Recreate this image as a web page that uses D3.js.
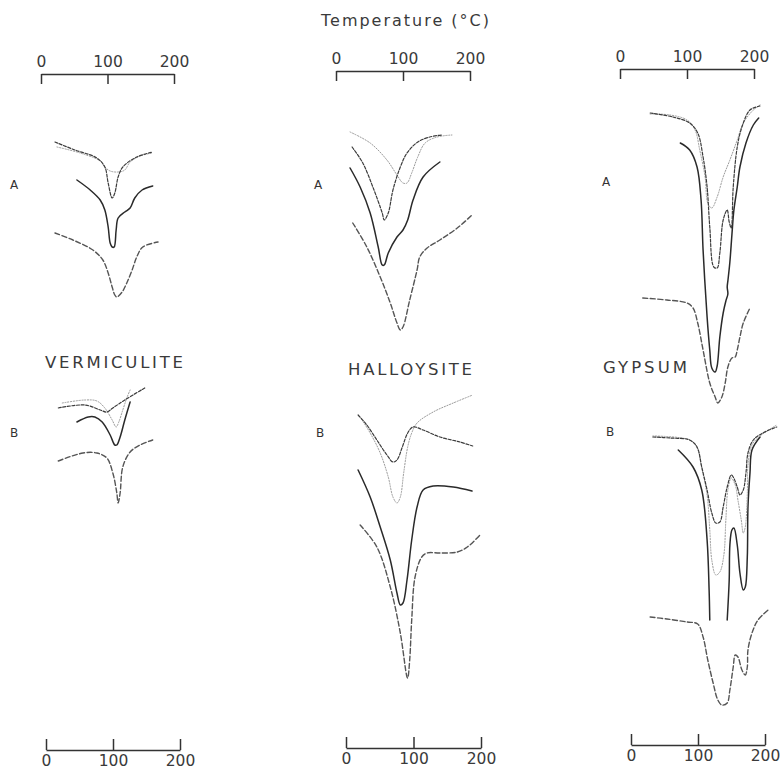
<!DOCTYPE html>
<html lang="en">
<head>
<meta charset="utf-8" />
<title>DTA curves - vermiculite, halloysite, gypsum</title>
<script src="https://cdn.jsdelivr.net/npm/d3@7/dist/d3.min.js"></script>
<style>
  body { margin: 0; background: #fff; }
  svg text { font-family: "DejaVu Sans", "Noto Sans", sans-serif; fill: #3a3a3a; }
  .axis path, .axis line { stroke: #333; stroke-width: 1.5px; fill: none; }
  .axis text { font-size: 15.5px; }
  .curve { fill: none; stroke-linejoin: round; stroke-linecap: round; }
</style>
</head>
<body>
<div id="chart"></div>
<script>
// tick values of every temperature scale (degrees C)
var tempTicks = [0, 100, 200];
var panelNames = ["VERMICULITE", "HALLOYSITE", "GYPSUM"];
var runLabels = ["A", "B"];

// each curve: [temperature, vertical position on the plate]
// vermiculite, run A
var vermA_dashdot = [[21,142],[51,150],[84,158],[96,167],[101,183],[107,198],[111,193],[116,177],[123,167],[144,157],[168,152]];
var vermA_dotted  = [[24,147],[59,153],[89,161],[96,167],[104,171],[116,172],[126,170],[134,162],[149,156],[167,153]];
var vermA_solid   = [[54,180],[74,190],[89,200],[96,210],[101,227],[104,243],[107,247],[110,247],[113,230],[116,218],[126,212],[134,208],[141,198],[152,190],[168,186]];
var vermA_dashed  = [[21,233],[48,240],[78,250],[93,260],[101,273],[107,287],[111,295],[114,297],[122,292],[129,283],[137,270],[144,257],[153,247],[176,242]];
// vermiculite, run B
var vermB_dashdot = [[26,408],[66,405],[89,410],[99,412],[108,408],[126,400],[156,388]];
var vermB_dotted  = [[32,403],[66,400],[84,401],[96,408],[107,420],[113,427],[117,422],[123,410],[129,398],[134,390]];
var vermB_solid   = [[54,422],[71,417],[81,417],[92,422],[104,435],[111,445],[114,445],[119,437],[126,420],[134,402]];
var vermB_dashed  = [[26,461],[63,453],[84,453],[99,458],[108,473],[114,493],[116,503],[119,493],[123,467],[134,452],[149,445],[168,440]];

// halloysite, run A
var hallA_dotted  = [[21,132],[51,143],[76,160],[91,175],[100,183],[106,183],[113,173],[122,157],[133,143],[151,137],[173,135]];
var hallA_dashdot = [[24,147],[40,163],[55,187],[69,213],[72,220],[78,213],[85,190],[96,167],[106,153],[122,142],[140,137],[158,135]];
var hallA_solid   = [[21,168],[36,187],[51,213],[63,247],[69,265],[72,265],[78,253],[91,237],[100,230],[107,220],[115,200],[130,177],[155,162]];
var hallA_dashed  = [[25,223],[46,247],[66,277],[81,303],[91,323],[96,330],[100,327],[110,300],[121,270],[125,257],[136,248],[155,240],[181,228],[203,215]];
// halloysite, run B
var hallB_dashdot = [[33,415],[46,425],[61,440],[76,455],[85,462],[91,460],[99,447],[107,433],[115,427],[130,430],[155,437],[185,442],[204,446]];
var hallB_dotted  = [[36,417],[51,433],[66,453],[78,477],[85,497],[91,503],[96,497],[101,473],[107,447],[113,433],[121,423],[145,412],[175,403],[204,395]];
var hallB_solid   = [[33,470],[51,497],[66,527],[81,560],[91,593],[96,605],[100,603],[106,580],[113,540],[121,507],[130,490],[145,486],[175,487],[203,491]];
var hallB_dashed  = [[36,525],[61,547],[81,587],[96,633],[106,677],[107,678],[110,660],[113,620],[118,577],[128,557],[136,553],[155,553],[181,552],[196,547],[215,535]];

// gypsum, run A
var gypA_dotted  = [[45,114],[75,115],[100,120],[112,130],[119,150],[127,177],[131,203],[137,208],[145,197],[154,177],[164,160],[175,140],[184,123],[199,110],[209,105]];
var gypA_dashdot = [[45,113],[79,117],[104,123],[116,133],[124,157],[130,187],[134,227],[140,267],[145,268],[149,253],[154,220],[160,210],[163,222],[166,228],[169,187],[175,147],[182,127],[194,110],[209,106]];
var gypA_solid   = [[90,143],[104,150],[115,167],[121,200],[124,250],[130,317],[134,350],[137,368],[142,372],[145,366],[149,337],[154,313],[158,301],[161,294],[160,287],[161,281],[164,262],[167,235],[170,210],[175,187],[179,167],[188,143],[199,125],[207,118]];
var gypA_dashed  = [[34,298],[70,300],[100,303],[109,308],[116,323],[124,350],[134,383],[142,397],[146,403],[152,397],[157,383],[161,367],[167,358],[172,357],[175,350],[179,337],[184,323],[194,308]];
// gypsum, run B (solid trace runs off the plate in its first well, two pieces)
var gypB_dashdot = [[49,437],[75,438],[104,440],[115,447],[122,467],[130,490],[137,513],[143,523],[149,522],[154,507],[160,487],[166,475],[169,477],[175,487],[179,495],[184,490],[188,473],[191,453],[199,440],[213,433],[234,427]];
var gypB_dotted  = [[49,436],[104,440],[115,448],[122,468],[130,495],[134,530],[137,560],[143,575],[149,572],[155,555],[158,520],[161,490],[166,478],[172,485],[176,500],[181,520],[184,533],[187,527],[190,495],[191,465],[197,445],[209,436],[234,425]];
var gypB_solid1  = [[87,450],[109,467],[122,490],[130,540],[133,590],[134,620]];
var gypB_solid2  = [[160,620],[163,580],[164,545],[167,530],[170,528],[175,545],[179,573],[184,590],[187,587],[190,557],[191,507],[194,473],[197,450],[209,437]];
var gypB_dashed  = [[45,617],[70,619],[100,622],[116,624],[124,637],[131,660],[139,683],[146,700],[152,705],[160,703],[164,690],[169,667],[172,655],[176,657],[182,670],[187,675],[190,667],[191,650],[197,633],[206,620],[221,610]];

var W = 780, H = 772;

var styles = {
  solid:   { stroke: "#2a2a2a", width: 1.5, dash: null },
  dashed:  { stroke: "#555",    width: 1.4, dash: "5,2.5" },
  dashdot: { stroke: "#3c3c3c", width: 1.2, dash: "3,1.6" },
  dotted:  { stroke: "#9a9a9a", width: 1.0, dash: "1.2,1.6" }
};

// layout of the three panels on the plate
var panels = [
  { name: panelNames[0],
    top: { x0: 41, x1: 174, y: 74, pad: 7 }, bottom: { x0: 46, x1: 180, y: 750 },
    title: { x: 114, y: 368, w: 138 }, runs: [{ x: 14, y: 189 }, { x: 14, y: 437 }],
    curves: [[vermA_dashed,"dashed"],[vermA_solid,"solid"],[vermA_dotted,"dotted"],[vermA_dashdot,"dashdot"],
             [vermB_dashed,"dashed"],[vermB_solid,"solid"],[vermB_dotted,"dotted"],[vermB_dashdot,"dashdot"]] },
  { name: panelNames[1],
    top: { x0: 336, x1: 470, y: 71, pad: 7 }, bottom: { x0: 346, x1: 481, y: 748 },
    title: { x: 410, y: 375, w: 124 }, runs: [{ x: 318, y: 189 }, { x: 320, y: 437 }],
    curves: [[hallA_dashed,"dashed"],[hallA_solid,"solid"],[hallA_dotted,"dotted"],[hallA_dashdot,"dashdot"],
             [hallB_dashed,"dashed"],[hallB_solid,"solid"],[hallB_dotted,"dotted"],[hallB_dashdot,"dashdot"]] },
  { name: panelNames[2],
    top: { x0: 620, x1: 754, y: 69, pad: 7 }, bottom: { x0: 631, x1: 765, y: 745 },
    title: { x: 645, y: 373, w: 84 }, runs: [{ x: 606, y: 186 }, { x: 610, y: 436 }],
    curves: [[gypA_dashed,"dashed"],[gypA_solid,"solid"],[gypA_dotted,"dotted"],[gypA_dashdot,"dashdot"],
             [gypB_dashed,"dashed"],[gypB_solid1,"solid"],[gypB_solid2,"solid"],[gypB_dotted,"dotted"],[gypB_dashdot,"dashdot"]] }
];

var svg = d3.select("#chart").append("svg")
    .attr("width", W)
    .attr("height", H);

// vertical position on the plate (shared by all panels)
var y = d3.scaleLinear().domain([0, H]).range([0, H]);

svg.append("text")
    .attr("x", 405).attr("y", 26)
    .attr("text-anchor", "middle")
    .attr("textLength", 168)
    .attr("lengthAdjust", "spacing")
    .style("font-size", "16px")
    .text("Temperature (\u00B0C)");

panels.forEach(function(p) {
  var x = d3.scaleLinear().domain([0, 200]).range([p.top.x0, p.top.x1]);
  var xb = d3.scaleLinear().domain([0, 200]).range([p.bottom.x0, p.bottom.x1]);

  // top axis: ticks hang below the line, numbers above
  svg.append("g")
      .attr("class", "axis")
      .attr("transform", "translate(0," + y(p.top.y) + ")")
      .call(d3.axisTop(x).tickValues(tempTicks).tickSizeInner(-10).tickSizeOuter(0).tickPadding(p.top.pad))
      .call(function(g) { g.selectAll("text").attr("fill", "#3a3a3a"); });

  // bottom axis: ticks stand up from the line, numbers below
  svg.append("g")
      .attr("class", "axis")
      .attr("transform", "translate(0," + y(p.bottom.y) + ")")
      .call(d3.axisBottom(xb).tickValues(tempTicks).tickSizeInner(-11).tickSizeOuter(0).tickPadding(5))
      .call(function(g) { g.selectAll("text").attr("fill", "#3a3a3a"); });

  svg.append("text")
      .attr("x", p.title.x).attr("y", p.title.y)
      .attr("text-anchor", "middle")
      .attr("textLength", p.title.w)
      .attr("lengthAdjust", "spacing")
      .style("font-size", "16.5px")
      .text(p.name);

  p.runs.forEach(function(r, i) {
    svg.append("text")
        .attr("x", r.x).attr("y", r.y)
        .attr("text-anchor", "middle")
        .style("font-size", "12px")
        .style("fill", "#333")
        .text(runLabels[i]);
  });

  var line = d3.line()
      .x(function(d) { return x(d[0]); })
      .y(function(d) { return y(d[1]); })
      .curve(d3.curveCatmullRom.alpha(0.5));

  p.curves.forEach(function(c) {
    var s = styles[c[1]];
    svg.append("path")
        .datum(c[0])
        .attr("class", "curve")
        .attr("stroke", s.stroke)
        .attr("stroke-width", s.width)
        .attr("stroke-dasharray", s.dash)
        .attr("d", line);
  });
});
</script>
</body>
</html>
